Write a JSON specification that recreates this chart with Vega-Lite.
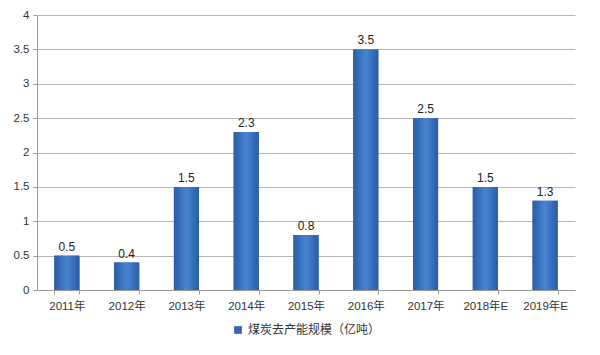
{
  "$schema": "https://vega.github.io/schema/vega-lite/v6.json",
  "width": 538,
  "height": 275,
  "autosize": "none",
  "padding": {"left": 37, "top": 15, "right": 25, "bottom": 65},
  "background": "white",
  "config": {
    "font": "Liberation Sans, Noto Sans CJK SC, sans-serif",
    "view": {"stroke": null},
    "legend": {"layout": {"bottom": {"anchor": "middle"}}},
    "axis": {"labelFont": "Liberation Sans, Noto Sans CJK SC, sans-serif", "labelFontSize": 11.5, "labelColor": "#333333", "domainColor": "#9a9a9a", "tickColor": "#9a9a9a", "title": null}
  },
  "data": {
    "values": [
      {"year": "2011年", "value": 0.5, "series": "煤炭去产能规模（亿吨）"},
      {"year": "2012年", "value": 0.4, "series": "煤炭去产能规模（亿吨）"},
      {"year": "2013年", "value": 1.5, "series": "煤炭去产能规模（亿吨）"},
      {"year": "2014年", "value": 2.3, "series": "煤炭去产能规模（亿吨）"},
      {"year": "2015年", "value": 0.8, "series": "煤炭去产能规模（亿吨）"},
      {"year": "2016年", "value": 3.5, "series": "煤炭去产能规模（亿吨）"},
      {"year": "2017年", "value": 2.5, "series": "煤炭去产能规模（亿吨）"},
      {"year": "2018年E", "value": 1.5, "series": "煤炭去产能规模（亿吨）"},
      {"year": "2019年E", "value": 1.3, "series": "煤炭去产能规模（亿吨）"}
    ]
  },
  "encoding": {
    "x": {
      "field": "year", "type": "nominal", "sort": null,
      "scale": {"paddingInner": 0.58, "paddingOuter": 0.29},
      "axis": {"labelAngle": 0, "tickBand": "extent", "tickSize": 4, "labelPadding": 6, "grid": false}
    },
    "y": {
      "field": "value", "type": "quantitative",
      "scale": {"domain": [0, 4], "nice": false},
      "axis": {"values": [0, 0.5, 1, 1.5, 2, 2.5, 3, 3.5, 4], "grid": true, "gridColor": "#b5b5b5", "tickSize": 4, "labelPadding": 4, "format": "~g"}
    }
  },
  "layer": [
    {
      "mark": {"type": "bar"},
      "encoding": {
        "color": {
          "field": "series", "type": "nominal",
          "scale": {"range": ["#3566b0"]},
          "legend": {"orient": "bottom", "direction": "horizontal", "title": null, "symbolType": "square", "symbolSize": 60, "labelFontSize": 12, "labelColor": "#333333", "labelFont": "Noto Sans CJK SC, sans-serif", "offset": 12}
        }
      }
    },
    {
      "mark": {
        "type": "bar",
        "fill": {
          "gradient": "linear", "x1": 0, "x2": 1, "y1": 0, "y2": 0,
          "stops": [
            {"offset": 0, "color": "#2a5ca6"},
            {"offset": 0.5, "color": "#4785d2"},
            {"offset": 1, "color": "#2a5ca6"}
          ]
        }
      }
    },
    {
      "mark": {"type": "text", "dy": -9, "fontSize": 12, "color": "#222222"},
      "encoding": {"text": {"field": "value", "type": "quantitative"}}
    }
  ]
}
